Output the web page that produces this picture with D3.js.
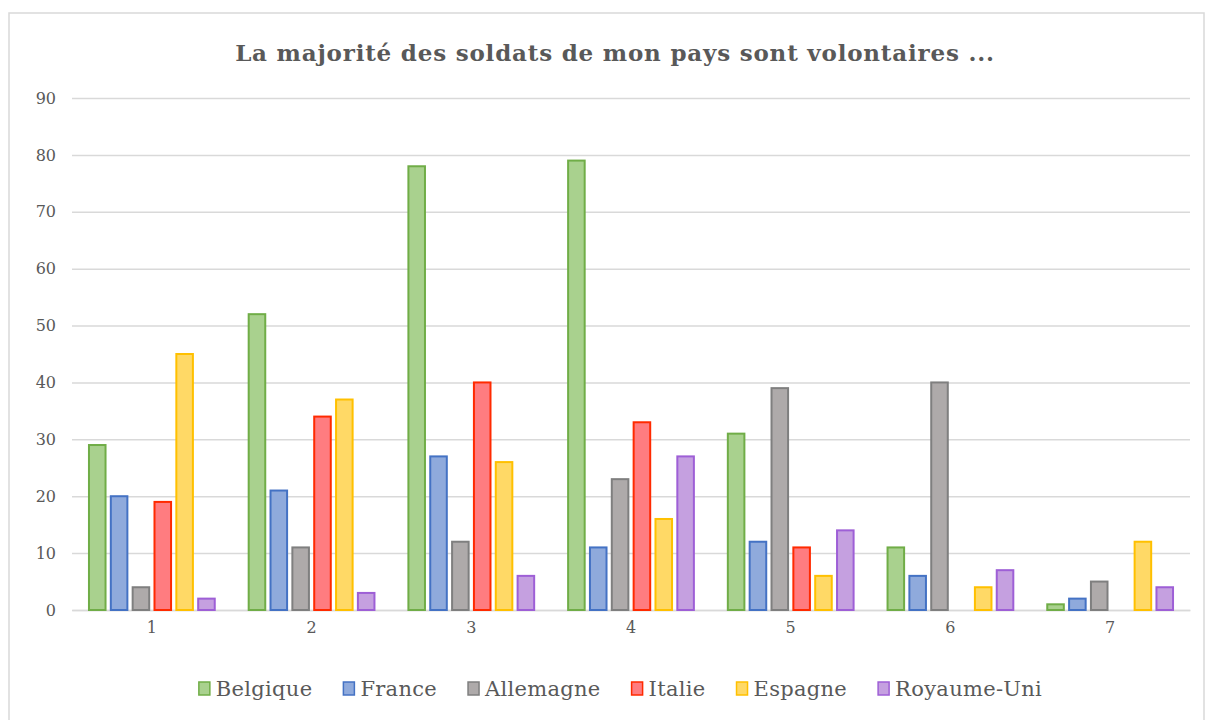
<!DOCTYPE html>
<html>
<head>
<meta charset="utf-8">
<script src="https://cdn.jsdelivr.net/npm/d3@7"></script>
<style>
  body { margin: 0; background: #fff; }
  svg { display: block; font-family: 'DejaVu Serif', serif; }
</style>
</head>
<body>
<svg width="1208" height="720"></svg>
<script>
let categories = ['1', '2', '3', '4', '5', '6', '7']
let seriesNames = ['Belgique', 'France', 'Allemagne', 'Italie', 'Espagne', 'Royaume-Uni']
let belgique = [29, 52, 78, 79, 31, 11, 1]
let france = [20, 21, 27, 11, 12, 6, 2]
let allemagne = [4, 11, 12, 23, 39, 40, 5]
let italie = [19, 34, 40, 33, 11, 0, 0]
let espagne = [45, 37, 26, 16, 6, 4, 12]
let royaumeUni = [2, 3, 6, 27, 14, 7, 4]
let yTicks = [0, 10, 20, 30, 40, 50, 60, 70, 80, 90]

let fills = ['#A9D18E', '#8FAADC', '#AEAAAA', '#FF7C80', '#FFD966', '#C5A0E0']
let strokes = ['#70AD47', '#4472C4', '#7F7F7F', '#FF2A00', '#FFC000', '#9E5FD6']

let allSeries = [belgique, france, allemagne, italie, espagne, royaumeUni]
let rows = categories.map((c, i) => ({
  cat: c,
  vals: seriesNames.map((s, j) => ({ name: s, idx: j, v: allSeries[j][i] }))
}))

let plotLeft = 72, plotRight = 1190, plotTop = 98, plotBottom = 610

let svg = d3.select('svg')

svg.append('rect')
    .attr('x', 9).attr('y', 13)
    .attr('width', 1195).attr('height', 720)
    .attr('fill', '#fff')
    .attr('stroke', '#D9D9D9')
    .attr('stroke-width', 1.5)

let x0 = d3.scaleBand()
            .domain(categories)
            .range([plotLeft, plotRight])
            .paddingInner(0.2)
            .paddingOuter(0.1)

let x1 = d3.scaleBand()
            .domain(seriesNames)
            .range([0, x0.bandwidth()])
            .paddingInner(0.15)

let yScale = d3.scaleLinear()
                .domain([0, 90])
                .range([plotBottom, plotTop])

let yAxis = d3.axisLeft(yScale)
              .tickValues(yTicks)
              .tickSize(-(plotRight - plotLeft))
              .tickPadding(16)

svg.append('g')
    .attr('transform', `translate(${plotLeft}, 0)`)
    .call(yAxis)
    .call(g => g.select('.domain').remove())
    .call(g => g.selectAll('line').attr('stroke', '#D9D9D9').attr('stroke-width', 1.5))
    .call(g => g.selectAll('text')
      .attr('fill', '#595959')
      .style('font-size', '16px')
      .style('font-family', "'DejaVu Serif', serif"))

// category axis
let xAxisScale = d3.scaleBand().domain(categories).range([plotLeft, plotRight])
svg.append('g')
    .attr('transform', `translate(0, ${plotBottom})`)
    .call(d3.axisBottom(xAxisScale).tickSize(0).tickPadding(12))
    .call(g => g.select('.domain').attr('stroke', '#D9D9D9').attr('stroke-width', 1.5))
    .call(g => g.selectAll('text')
      .attr('fill', '#595959')
      .style('font-size', '16px')
      .style('font-family', "'DejaVu Serif', serif"))

svg.append('g')
  .selectAll('g')
  .data(rows)
  .enter()
  .append('g')
    .attr('transform', d => `translate(${x0(d.cat)}, 0)`)
  .selectAll('rect')
  .data(d => d.vals.filter(v => v.v > 0))
  .enter()
  .append('rect')
    .attr('x', d => x1(d.name) + 1)
    .attr('y', d => yScale(d.v))
    .attr('width', x1.bandwidth() - 2)
    .attr('height', d => yScale(0) - yScale(d.v))
    .attr('fill', d => fills[d.idx])
    .attr('stroke', d => strokes[d.idx])
    .attr('stroke-width', 2)

svg.append('text')
    .attr('x', 615)
    .attr('y', 61)
    .style('text-anchor', 'middle')
    .style('font-size', '23px')
    .style('letter-spacing', '0.8px')
    .style('font-weight', 'bold')
    .attr('fill', '#595959')
    .text('La majorité des soldats de mon pays sont volontaires ...')

// legend
let legend = svg.append('g')
let lx = 0
seriesNames.forEach((s, i) => {
  let item = legend.append('g').attr('transform', `translate(${lx}, 0)`)
  item.append('rect')
      .attr('x', 1).attr('y', -7)
      .attr('width', 11).attr('height', 13)
      .attr('fill', fills[i])
      .attr('stroke', strokes[i])
      .attr('stroke-width', 1.5)
  let t = item.append('text')
      .attr('x', 18)
      .attr('y', 7)
      .attr('fill', '#595959')
      .style('font-size', '21px')
      .style('letter-spacing', '0.3px')
      .text(s)
  lx += 18 + t.node().getComputedTextLength() + 30
})
let legendWidth = lx - 30
legend.attr('transform', `translate(${620 - legendWidth / 2}, 689)`)
</script>
</body>
</html>
